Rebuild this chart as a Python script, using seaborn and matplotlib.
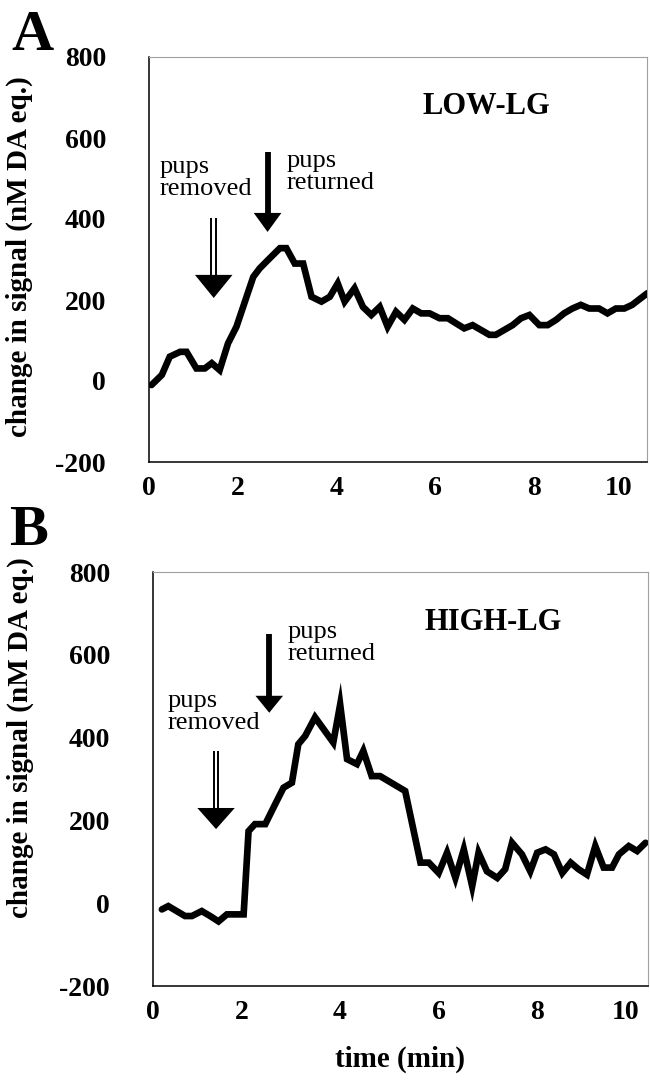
import matplotlib
matplotlib.use("Agg")
import matplotlib.pyplot as plt
import matplotlib.transforms as mtransforms
import seaborn as sns
import pandas as pd

# ---------------- data ----------------
time_low = [0.05, 0.26, 0.42, 0.63, 0.76, 0.96, 1.13, 1.27, 1.43, 1.60, 1.77, 2.11, 2.24, 2.41, 2.65,
            2.78, 2.95, 3.12, 3.29, 3.49, 3.66, 3.82, 3.96, 4.16, 4.33, 4.50, 4.67, 4.83, 5.00, 5.17,
            5.34, 5.51, 5.68, 5.88, 6.05, 6.22, 6.38, 6.55, 6.72, 6.89, 7.02, 7.19, 7.36, 7.53, 7.70,
            7.90, 8.07, 8.24, 8.40, 8.57, 8.74, 8.91, 9.11, 9.28, 9.45, 9.62, 9.78, 9.95, 10.09]
signal_low = [-10, 15, 60, 72, 72, 31, 31, 44, 27, 93, 134, 257, 278, 299, 328,
              328, 290, 290, 208, 196, 208, 241, 196, 229, 183, 163, 183, 134, 171, 151,
              179, 167, 167, 155, 155, 142, 130, 138, 126, 114, 114, 126, 138, 155, 163,
              138, 138, 151, 167, 179, 188, 179, 179, 167, 179, 179, 188, 204, 217]

time_high = [0.18, 0.31, 0.48, 0.65, 0.79, 0.99, 1.16, 1.33, 1.50, 1.67, 1.84, 1.94, 2.07, 2.28, 2.48,
             2.65, 2.82, 2.95, 3.09, 3.29, 3.46, 3.66, 3.80, 3.94, 4.14, 4.27, 4.44, 4.61, 4.78, 4.95,
             5.12, 5.43, 5.60, 5.80, 5.97, 6.14, 6.31, 6.48, 6.61, 6.78, 6.99, 7.15, 7.29, 7.49, 7.66,
             7.80, 7.97, 8.14, 8.31, 8.48, 8.64, 8.81, 8.98, 9.15, 9.32, 9.46, 9.66, 9.83, 10.0]
signal_high = [-15, -7, -19, -31, -31, -19, -31, -44, -27, -27, -27, 174, 191, 191, 239,
               279, 291, 384, 404, 449, 421, 388, 480, 348, 336, 368, 307, 307, 295, 283,
               271, 98, 98, 73, 122, 61, 130, 41, 122, 77, 61, 82, 146, 118, 77,
               122, 130, 118, 73, 98, 82, 69, 138, 86, 86, 118, 138, 126, 146]

y_ticks = [-200, 0, 200, 400, 600, 800]
x_ticks = [0, 2, 4, 6, 8, 10]
panel_letters = ["A", "B"]
group_labels = ["LOW-LG", "HIGH-LG"]
ylabel_text = "change in signal (nM DA eq.)"
xlabel_text = "time (min)"
removed_text = "pups\nremoved"
returned_text = "pups\nreturned"

# event marker times (min) for each panel
removed_time = [1.31, 1.28]
returned_time = [2.40, 2.36]

# ---------------- style ----------------
sns.set_style("white")
plt.rcParams["font.family"] = ["Liberation Serif", "DejaVu Serif"]
plt.rcParams["text.color"] = "black"
plt.rcParams["axes.labelcolor"] = "black"
plt.rcParams["xtick.color"] = "black"
plt.rcParams["ytick.color"] = "black"

fig = plt.figure(figsize=(6.5, 10.8), dpi=100)
axA = fig.add_axes([149 / 650, 1 - 462 / 1080, 498 / 650, 405 / 1080])
axB = fig.add_axes([153 / 650, 1 - 986 / 1080, 495 / 650, 414 / 1080])

dfA = pd.DataFrame({"time": time_low, "signal": signal_low})
dfB = pd.DataFrame({"time": time_high, "signal": signal_high})

cfg = [
    dict(ax=axA, df=dfA, xlim=(0, 10.08), rem=(removed_time[0], 402, 262, 205), ret=(returned_time[0], 565, 415, 368),
         rem_txt=(0.22, 555), ret_txt=(2.79, 570), grp=(6.83, 677), ylab_y=0.506,
         xshift=[0, -10, -10, -10, -10, -24]),
    dict(ax=axB, df=dfB, xlim=(0, 10.05), rem=(removed_time[1], 368, 230, 179), ret=(returned_time[1], 651, 501, 460),
         rem_txt=(0.30, 515), ret_txt=(2.74, 682), grp=(6.91, 678), ylab_y=0.60,
         xshift=[0, -10, -10, -10, -10, -20]),
]


def down_arrow(ax, x, top, base, tip, half_w, shaft="single"):
    if shaft == "double":
        dx = 0.045
        ax.plot([x - dx, x - dx], [top, base], color="black", lw=1.4, solid_capstyle="butt")
        ax.plot([x + dx, x + dx], [top, base], color="black", lw=1.4, solid_capstyle="butt")
    else:
        ax.plot([x, x], [top, base], color="black", lw=4.2, solid_capstyle="butt")
    ax.fill([x - half_w, x + half_w, x], [base, base, tip], color="black", lw=0)


for i, c in enumerate(cfg):
    ax = c["ax"]
    sns.lineplot(data=c["df"], x="time", y="signal", ax=ax, color="black", lw=4.8,
                 solid_joinstyle="miter", estimator=None, sort=False)
    ax.set_xlim(*c["xlim"])
    ax.set_ylim(-200, 800)
    ax.set_xticks(x_ticks)
    ax.set_yticks(y_ticks)
    ax.set_xticklabels([str(v) for v in x_ticks], fontsize=20, fontweight="bold")
    ax.set_yticklabels([str(v) for v in y_ticks], fontsize=20, fontweight="bold")
    ax.tick_params(axis="y", direction="out", length=3, width=1, pad=28, colors="black")
    ax.tick_params(axis="x", direction="out", length=3, width=1, pad=7, colors="black")
    for lbl, sh in zip(ax.get_xticklabels(), c["xshift"]):
        lbl.set_transform(lbl.get_transform() + mtransforms.ScaledTranslation(sh / 100, 0, fig.dpi_scale_trans))
    for s in ["left", "bottom"]:
        ax.spines[s].set_color("black")
        ax.spines[s].set_linewidth(1.1)
    for s in ["top", "right"]:
        ax.spines[s].set_color("#a0a0a0")
        ax.spines[s].set_linewidth(0.8)
    ax.set_xlabel("")
    ax.set_ylabel(ylabel_text, fontsize=21, fontweight="bold")
    ax.yaxis.set_label_coords(-0.232 if i == 0 else -0.240, c["ylab_y"])

    x, top, base, tip = c["rem"]
    down_arrow(ax, x, top, base, tip, 0.38, shaft="double")
    x, top, base, tip = c["ret"]
    down_arrow(ax, x, top, base, tip, 0.28, shaft="single")

    ax.text(c["rem_txt"][0], c["rem_txt"][1], removed_text, fontsize=19, va="top", ha="left",
            linespacing=1.0)
    ax.text(c["ret_txt"][0], c["ret_txt"][1], returned_text, fontsize=19, va="top", ha="left",
            linespacing=1.0)
    ax.text(c["grp"][0], c["grp"][1], group_labels[i], fontsize=22, fontweight="bold",
            ha="center", va="center")

fig.text(32 / 650, 1 - 36 / 1080, panel_letters[0], fontsize=42, fontweight="bold", ha="center", va="center")
fig.text(29 / 650, 1 - 531 / 1080, panel_letters[1], fontsize=42, fontweight="bold", ha="center", va="center")
fig.text(400 / 650, 1 - 1059 / 1080, xlabel_text, fontsize=21, fontweight="bold", ha="center", va="center")

fig.savefig("out.png", dpi=100)
